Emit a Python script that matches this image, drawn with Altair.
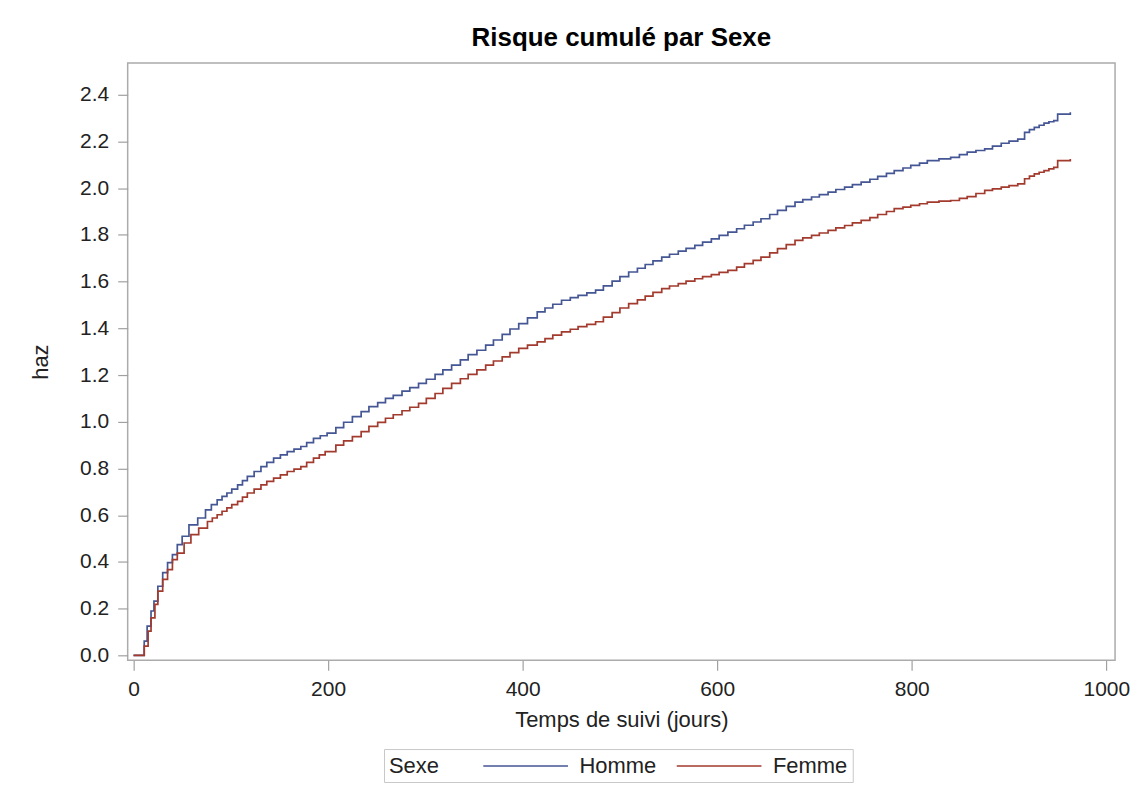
import altair as alt
import pandas as pd

# Homme (blue) — cumulative hazard
homme_t = [0, 9, 11, 14, 18, 21, 25, 30, 35, 40, 45, 50, 57, 66, 74, 80, 86, 91, 96, 101,
           107, 112, 117, 124, 131, 137, 144, 151, 158, 165, 172, 178, 185, 192,
           199, 208, 216, 225, 234, 242, 251, 259, 267, 276, 284, 293,
           301, 310, 318, 327, 336, 344, 353, 362, 370, 379, 387, 396, 405, 415, 423, 431,
           440, 449, 457, 466, 475, 483, 492, 500, 509, 518, 526, 534, 543, 551, 560, 568,
           577, 585, 594, 602, 611, 620, 628, 637, 645, 654, 662, 671, 680, 688, 697, 705,
           714, 722, 731, 739, 748, 757, 765, 774, 782, 791, 799, 808, 816, 828, 840, 849,
           857, 866, 875, 883, 892, 900, 909, 916, 921, 926, 931, 936, 941, 946, 950, 963]
homme_v = [0, 0.0, 0.061, 0.125, 0.19, 0.232, 0.296, 0.354, 0.397, 0.431, 0.474, 0.51, 0.559,
           0.588, 0.623, 0.645, 0.666, 0.681, 0.695, 0.712, 0.73, 0.748, 0.766, 0.787,
           0.808, 0.826, 0.844, 0.858, 0.872, 0.883, 0.894, 0.911, 0.929, 0.940, 0.951,
           0.975, 0.998, 1.022, 1.043, 1.065, 1.082, 1.100, 1.113, 1.131, 1.146, 1.164,
           1.182, 1.203, 1.222, 1.242, 1.265, 1.287, 1.306, 1.328, 1.350, 1.374, 1.397,
           1.420, 1.445, 1.470, 1.487, 1.503, 1.520, 1.531, 1.541, 1.552, 1.563, 1.582,
           1.602, 1.621, 1.641, 1.657, 1.673, 1.689, 1.705, 1.717, 1.730, 1.742, 1.755,
           1.769, 1.783, 1.798, 1.812, 1.826, 1.841, 1.855, 1.869, 1.887, 1.905, 1.922,
           1.940, 1.951, 1.962, 1.972, 1.983, 1.994, 2.004, 2.015, 2.026, 2.038, 2.050,
           2.063, 2.075, 2.086, 2.097, 2.107, 2.118, 2.125, 2.132, 2.143, 2.154, 2.161,
           2.168, 2.180, 2.192, 2.201, 2.210, 2.239, 2.250, 2.260, 2.269, 2.278, 2.284,
           2.289, 2.317, 2.325]

# Femme (red)
femme_t = [0, 10, 11, 15, 18, 22, 25, 30, 35, 40, 45, 52, 59, 67, 76, 81, 86, 91, 96, 101,
           107, 112, 117, 124, 131, 137, 144, 151, 158, 165, 172, 178, 185, 191,
           197, 208, 216, 225, 234, 242, 251, 259, 267, 276, 284, 293,
           301, 310, 318, 327, 336, 344, 353, 362, 370, 379, 387, 396, 405, 415, 423, 431,
           440, 449, 457, 466, 475, 483, 492, 500, 509, 518, 526, 534, 543, 551, 560, 568,
           577, 585, 594, 602, 611, 620, 628, 637, 645, 654, 662, 671, 680, 688, 697, 705,
           714, 722, 731, 739, 748, 757, 765, 774, 782, 791, 799, 808, 816, 828, 840, 849,
           857, 866, 875, 883, 892, 900, 909, 916, 921, 926, 931, 936, 941, 946, 950, 963]
femme_v = [0, 0, 0.04, 0.104, 0.161, 0.218, 0.275, 0.325, 0.367, 0.41, 0.438, 0.481, 0.517,
           0.545, 0.573, 0.588, 0.602, 0.617, 0.631, 0.645, 0.659, 0.677, 0.695, 0.712,
           0.73, 0.745, 0.759, 0.773, 0.787, 0.797, 0.808, 0.826, 0.844, 0.858, 0.872,
           0.900, 0.918, 0.936, 0.958, 0.980, 0.997, 1.015, 1.030, 1.047, 1.062, 1.079,
           1.100, 1.121, 1.143, 1.164, 1.184, 1.203, 1.222, 1.242, 1.260, 1.278, 1.296,
           1.314, 1.328, 1.342, 1.356, 1.371, 1.385, 1.396, 1.407, 1.417, 1.428, 1.448,
           1.467, 1.487, 1.506, 1.522, 1.538, 1.554, 1.570, 1.581, 1.591, 1.602, 1.612,
           1.621, 1.630, 1.639, 1.648, 1.662, 1.677, 1.691, 1.705, 1.723, 1.741, 1.758,
           1.776, 1.787, 1.798, 1.808, 1.819, 1.830, 1.840, 1.851, 1.862, 1.874, 1.887,
           1.900, 1.912, 1.919, 1.926, 1.933, 1.940, 1.944, 1.947, 1.956, 1.964, 1.977,
           1.990, 1.997, 2.004, 2.011, 2.018, 2.040, 2.051, 2.061, 2.068, 2.075, 2.082,
           2.089, 2.118, 2.125]

groups = ["Homme", "Femme"]
colors = ["#445694", "#A23A2E"]
x_ticks = [0, 200, 400, 600, 800, 1000]
y_ticks = [0.0, 0.2, 0.4, 0.6, 0.8, 1.0, 1.2, 1.4, 1.6, 1.8, 2.0, 2.2, 2.4]

rows = []
for t, v in zip(homme_t, homme_v):
    rows.append({"t": t, "haz": v, "Sexe": "Homme"})
for t, v in zip(femme_t, femme_v):
    rows.append({"t": t, "haz": v, "Sexe": "Femme"})
df = pd.DataFrame(rows)

FONT = "Liberation Sans"

chart = alt.Chart(df).mark_line(interpolate="step-after", strokeWidth=1.7).encode(
    x=alt.X("t:Q",
            scale=alt.Scale(domain=[-6, 1009], nice=False, zero=False),
            axis=alt.Axis(title="Temps de suivi (jours)", values=x_ticks, format="d",
                          grid=False, domain=False, tickSize=10, tickColor="#a0a0a0",
                          tickWidth=1.2, labelPadding=8, labelFontSize=21,
                          labelColor="#222222", titleFontSize=22, titleFontWeight="normal",
                          titleColor="#222222", titlePadding=10, labelFont=FONT,
                          titleFont=FONT)),
    y=alt.Y("haz:Q",
            scale=alt.Scale(domain=[-0.021, 2.536], nice=False, zero=False),
            axis=alt.Axis(title="haz", values=y_ticks, format=".1f",
                          grid=False, domain=False, tickSize=10, tickColor="#a0a0a0",
                          tickWidth=1.2, labelPadding=9, labelFontSize=21,
                          labelColor="#222222", titleFontSize=22, titleFontWeight="normal",
                          titleColor="#222222", titlePadding=27, labelFont=FONT,
                          titleFont=FONT)),
    color=alt.Color("Sexe:N",
                    scale=alt.Scale(domain=groups, range=colors),
                    sort=groups,
                    legend=alt.Legend(orient="none", legendX=257, legendY=688,
                                      direction="horizontal", titleOrient="left",
                                      symbolType="M-3.86,0H3.86", symbolSize=484,
                                      symbolStrokeWidth=1.5, labelFontSize=22,
                                      titleFontSize=22, titleFontWeight="normal",
                                      labelFont=FONT, titleFont=FONT,
                                      labelColor="#222222", titleColor="#222222",
                                      strokeColor="#c8c8c8", padding=5,
                                      titlePadding=74, columnPadding=16,
                                      labelOffset=42)),
).properties(
    width=990,
    height=599,
    title=alt.TitleParams("Risque cumulé par Sexe", fontSize=26, font=FONT,
                          fontWeight="bold", anchor="middle", offset=12, color="#000000"),
    autosize=alt.AutoSizeParams(type="none"),
    padding={"left": 120, "top": 54, "right": 20, "bottom": 125},
).configure_view(
    stroke="#ababab", strokeWidth=1.5
)

chart.save("out.html", embed_options={"renderer": "svg", "actions": False})
